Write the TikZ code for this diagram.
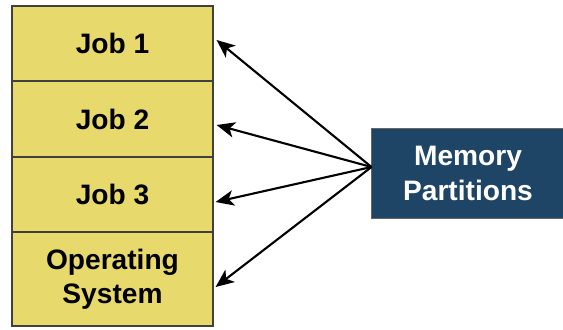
\documentclass[tikz,border=0pt]{standalone}
\usepackage{fontspec}
\setmainfont{Liberation Sans}
\usetikzlibrary{arrows.meta,calc}
\definecolor{jobyellow}{HTML}{E8D96C}
\definecolor{partblue}{HTML}{1F4566}
\tikzset{
	jobbox/.style={draw=black!75, line width=0.8pt, fill=jobyellow, minimum width=5.025cm, minimum height=1.875cm, inner sep=0pt, align=center, font=\fontsize{20}{24}\selectfont\bfseries},
	partbox/.style={draw=black!60, line width=0.7pt, fill=partblue, text=white, minimum width=4.8cm, minimum height=2.225cm, inner sep=0pt, align=center, font=\fontsize{20}{24.5}\selectfont\bfseries},
	partarrow/.style={line width=1.5pt, -{Stealth[length=13pt, width=11pt, inset=3.5pt]}}
}
\begin{document}
\begin{tikzpicture}[x=0.025cm, y=-0.025cm]
	\useasboundingbox (0,0) rectangle (563,329);
	\node[jobbox] (job1) at (112.5,43.5) {Job 1};
	\node[jobbox] (job2) at (112.5,119) {Job 2};
	\node[jobbox] (job3) at (112.5,194.5) {Job 3};
	\node[jobbox, minimum height=2.35cm] (os) at (112.5,279) {Operating\\System};
	\node[partbox] (mem) at (468,173.5) {Memory\\Partitions};
	\coordinate (src) at ($(mem.west)+(0,-6.5)$);
	\draw[partarrow] (src) -- ($(job1.east)+(3,-3.5)$);
	\draw[partarrow] (src) -- ($(job2.east)+(3,6)$);
	\draw[partarrow] (src) -- ($(job3.east)+(2,7.5)$);
	\draw[partarrow] (src) -- ($(os.east)+(2,8)$);
\end{tikzpicture}
\end{document}
